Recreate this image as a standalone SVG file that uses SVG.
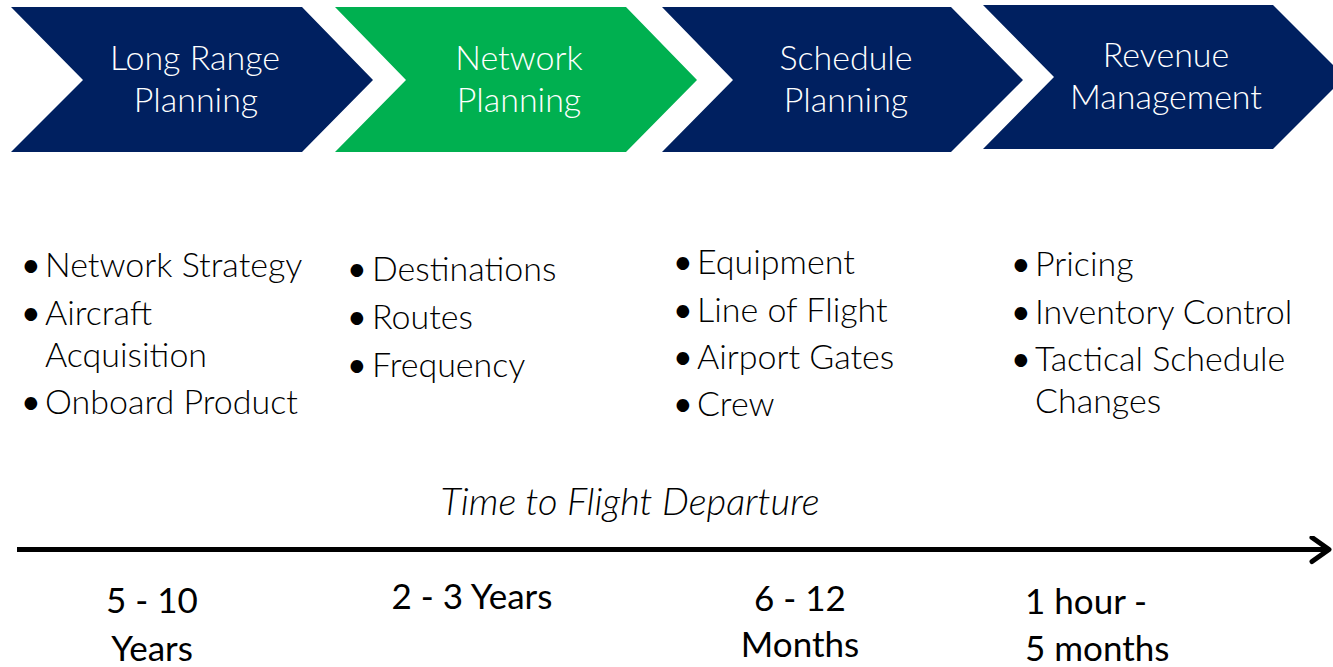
<svg xmlns="http://www.w3.org/2000/svg" width="1333" height="667" viewBox="0 0 1333 667">
<style>
.navy{fill:#002060}
.green{fill:#00B050}
.hd{font-family:Lato,"Open Sans",sans-serif;font-weight:300;font-size:34px;fill:#fff;text-anchor:middle}
.bl{font-family:Lato,"Open Sans",sans-serif;font-weight:300;font-size:34px;fill:#000}
.bu{font-weight:400}
.tm{font-family:Lato,"Open Sans",sans-serif;font-size:35px;fill:#000}
.ttl{font-family:Lato,"Open Sans",sans-serif;font-weight:300;font-style:italic;font-size:38px;fill:#000;text-anchor:middle}
.mid{text-anchor:middle}
</style>
<defs>
<marker id="ah" markerWidth="24" markerHeight="30" refX="20" refY="14" orient="auto" markerUnits="userSpaceOnUse">
<path d="M3,2 L20,14 L3,26" fill="none" stroke="#000" stroke-width="5" stroke-linecap="round" stroke-linejoin="round"/>
</marker>
</defs>
<g id="node-long-range">
<polygon class="navy" points="11,7 302,7 373,80 302,152 11,152 83,80"/>
<text class="hd" x="195" y="70">Long Range</text>
<text class="hd" x="196" y="112">Planning</text>
</g>
<g id="node-network">
<polygon class="green" points="335,7 626,7 697,80 626,152 335,152 406,80"/>
<text class="hd" x="519" y="70">Network</text>
<text class="hd" x="519" y="112">Planning</text>
</g>
<g id="node-schedule">
<polygon class="navy" points="662,7 951,7 1023,80 951,152 662,152 733,80"/>
<text class="hd" x="846" y="70">Schedule</text>
<text class="hd" x="846" y="112">Planning</text>
</g>
<g id="node-revenue">
<polygon class="navy" points="983,5 1273,5 1345,77 1273,149 983,149 1054,77"/>
<text class="hd" x="1166" y="67">Revenue</text>
<text class="hd" x="1166" y="109">Management</text>
</g>
<g id="list-long-range" class="bl">
<text class="bu" x="21" y="277">•</text><text x="45" y="277">Network Strategy</text>
<text class="bu" x="21" y="325">•</text><text x="45" y="325">Aircraft</text>
<text x="45" y="367">Acquisition</text>
<text class="bu" x="21" y="414">•</text><text x="45" y="414">Onboard Product</text>
</g>
<g id="list-network" class="bl">
<text class="bu" x="347" y="281">•</text><text x="372" y="281">Destinations</text>
<text class="bu" x="347" y="329">•</text><text x="372" y="329">Routes</text>
<text class="bu" x="347" y="377">•</text><text x="372" y="377">Frequency</text>
</g>
<g id="list-schedule" class="bl">
<text class="bu" x="673" y="274">•</text><text x="697" y="274">Equipment</text>
<text class="bu" x="673" y="322">•</text><text x="697" y="322">Line of Flight</text>
<text class="bu" x="673" y="369">•</text><text x="697" y="369">Airport Gates</text>
<text class="bu" x="673" y="416">•</text><text x="697" y="416">Crew</text>
</g>
<g id="list-revenue" class="bl">
<text class="bu" x="1011" y="276">•</text><text x="1035" y="276">Pricing</text>
<text class="bu" x="1011" y="324">•</text><text x="1035" y="324">Inventory Control</text>
<text class="bu" x="1011" y="371">•</text><text x="1035" y="371">Tactical Schedule</text>
<text x="1035" y="413">Changes</text>
</g>
<g id="timeline-title">
<text class="ttl" x="630" y="515">Time to Flight Departure</text>
</g>
<g id="connectors">
<line x1="17" y1="549.5" x2="1329" y2="549.5" stroke="#000" stroke-width="5" marker-end="url(#ah)"/>
</g>
<g id="time-labels" class="tm">
<text class="mid" x="152" y="613">5 - 10</text>
<text class="mid" x="152" y="661">Years</text>
<text class="mid" x="472" y="609">2 - 3 Years</text>
<text class="mid" x="800" y="611">6 - 12</text>
<text class="mid" x="800" y="657">Months</text>
<text x="1025" y="614">1 hour -</text>
<text x="1025" y="661">5 months</text>
</g>
</svg>
